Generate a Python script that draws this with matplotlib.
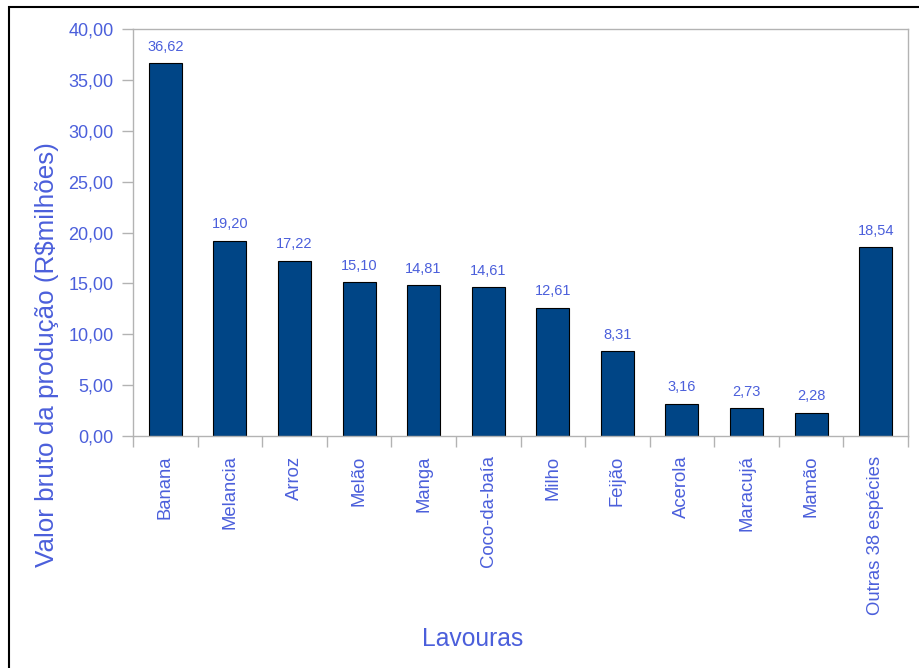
import matplotlib
matplotlib.use('Agg')
import matplotlib.pyplot as plt
from matplotlib.patches import Rectangle
import numpy as np

plt.rcParams['font.family'] = ['Liberation Sans', 'DejaVu Sans']

# dados
lavouras = ['Banana', 'Melancia', 'Arroz', 'Melão', 'Manga', 'Coco-da-baía',
            'Milho', 'Feijão', 'Acerola', 'Maracujá', 'Mamão', 'Outras 38 espécies']
valores = [36.62, 19.20, 17.22, 15.10, 14.81, 14.61, 12.61, 8.31, 3.16, 2.73, 2.28, 18.54]
yticks = [0, 5, 10, 15, 20, 25, 30, 35, 40]

txt = '#4b5fdb'
barcor = '#004586'
cinza = '#b3b3b3'

W, H = 919, 668
fig = plt.figure(figsize=(W / 100, H / 100), dpi=100)
ax = fig.add_axes([133 / W, 1 - 436 / H, 775 / W, 407 / H])

x = np.arange(len(lavouras))
bars = ax.bar(x, valores, width=0.51, color=barcor, edgecolor='black', linewidth=0.8)
ax.bar_label(bars, labels=[('%.2f' % v).replace('.', ',') for v in valores],
             padding=7, color=txt, fontsize=10.5)

ax.set_xlim(-0.5, len(lavouras) - 0.5)
ax.set_ylim(0, 40)
ax.set_yticks(yticks)
ax.set_yticklabels([('%.2f' % v).replace('.', ',') for v in yticks])
ax.set_xticks(x)
ax.set_xticklabels(lavouras, rotation=90, va='top')
ax.set_xticks(np.arange(len(lavouras) + 1) - 0.5, minor=True)

ax.tick_params(axis='y', colors=cinza, labelcolor=txt, labelsize=13, length=8, width=1, pad=6)
ax.tick_params(axis='x', which='major', length=0, labelcolor=txt, labelsize=13.3, pad=14)
ax.tick_params(axis='x', which='minor', colors=cinza, length=8, width=1)
for s in ax.spines.values():
    s.set_color(cinza)
    s.set_linewidth(1)

fig.text(47 / W, 1 - 355 / H, 'Valor bruto da produção (R$milhões)', rotation=90,
         ha='center', va='center', color=txt, fontsize=18.7)
fig.text(473 / W, 1 - 639 / H, 'Lavouras', ha='center', va='center', color=txt, fontsize=17.7)

fig.patches.append(Rectangle((9 / W, -0.1), 2, (H - 7) / H + 0.1, transform=fig.transFigure,
                             fill=False, edgecolor='black', linewidth=1.5))

fig.savefig('out.png', dpi=100)
